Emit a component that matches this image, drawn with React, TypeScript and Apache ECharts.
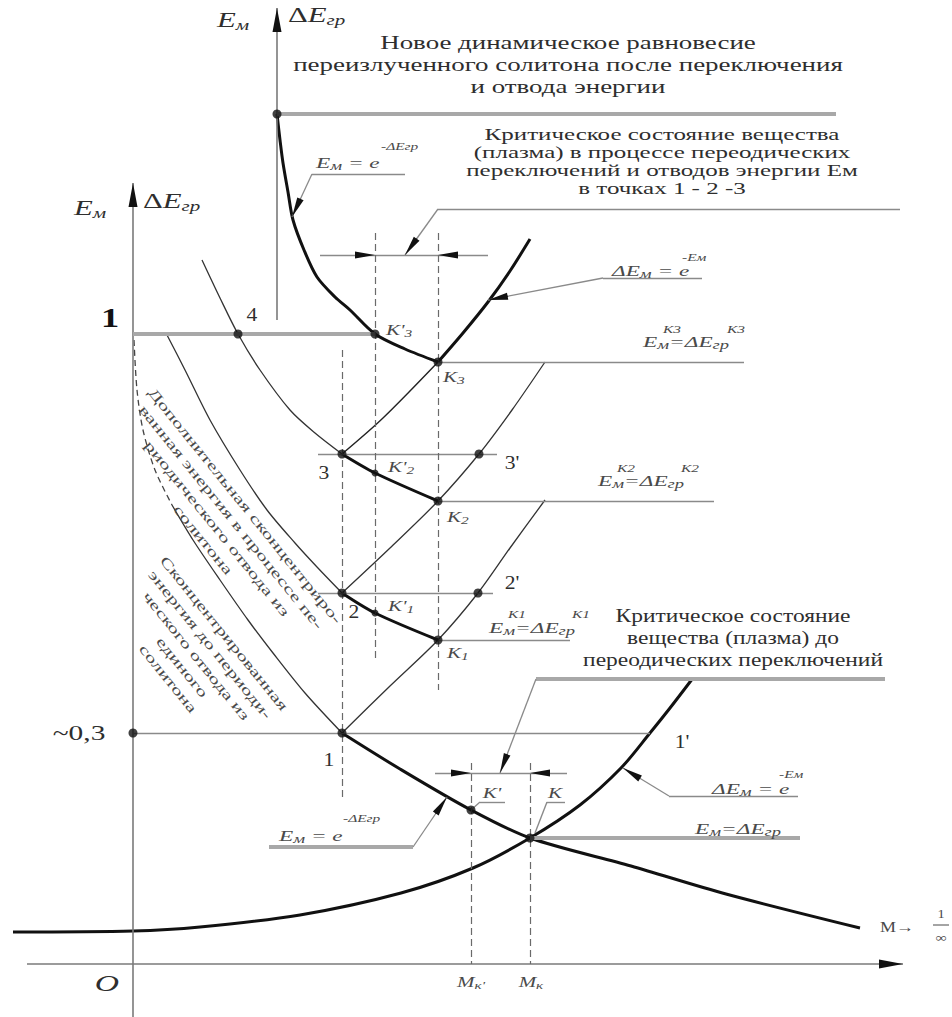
import React, { useEffect, useRef } from "react";
import * as echarts from "echarts";

// Diagram units: x runs along M from the origin O, y is the energy level above the M axis.
const X_EXTENT = [-133, 819];
const Y_EXTENT = [-53, 964];

// Curves, [M, E] pairs
const upperDecay = [[144, 850], [147, 824], [150, 801], [155, 772], [160, 744], [171, 714], [184, 687], [202, 667], [217, 654], [242, 630], [272, 615], [305, 602]];
const upperGrowth = [[305, 602], [330, 631], [355, 662], [377, 693], [397, 725]];
const growthFrom3 = [[209, 510], [250, 546], [305, 602]];
const growthFrom2 = [[209, 371], [257, 416], [305, 463], [346, 510], [379, 554], [412, 602]];
const growthFrom1 = [[209, 231], [257, 278], [305, 324], [345, 371], [377, 416], [412, 464]];
const decayStep3 = [[209, 510], [242, 491], [305, 463]];
const decayStep2 = [[209, 371], [242, 351], [305, 324]];
const curveThrough4 = [[69, 704], [87, 666], [105, 630], [127, 594], [157, 554], [182, 531], [209, 510]];
const curveTo2 = [[34, 629], [52, 594], [77, 544], [107, 494], [134, 454], [162, 421], [184, 397], [209, 371]];
const curveTo1Upper = [[1, 624], [4, 574], [10, 534], [22, 494], [39, 459]];
const curveTo1 = [[39, 459], [60, 424], [87, 384], [115, 344], [140, 311], [172, 271], [209, 231]];
const lowerDecay = [[209, 231], [267, 195], [338, 154], [397, 126], [498, 98], [593, 70], [727, 36]];
const lowerGrowth = [[-120, 32], [0, 33], [67, 37], [167, 49], [268, 71], [340, 96], [397, 126], [447, 159], [488, 196], [517, 231], [537, 256], [560, 286]];

// Marked states: top, 4, K'3, K3, 3, 3', K2, 2, 2', K1, 1, ~0.3, K', K
const statePoints = [[144, 850], [105, 630], [242, 630], [305, 602], [209, 510], [346, 510], [305, 463], [209, 371], [345, 371], [305, 324], [209, 231], [0, 231], [338, 154], [397, 126]];
// Intermediate states K'2, K'1
const minorPoints = [[242, 491], [242, 351]];

// Straight construction lines
const axes = [[[-106, 0], [770, 0]], [[0, -53], [0, 781]], [[144, 644], [144, 956]]];
const grayBars = [
  [[144, 850], [703, 850]],
  [[0, 630], [242, 630]],
  [[403, 285], [752, 285]],
  [[397, 126], [667, 126]],
  [[136, 117], [280, 117]],
];
const thinLines = [
  [[305, 755], [767, 755]],
  [[179, 790], [272, 790]],
  [[470, 686], [569, 686]],
  [[305, 602], [611, 602]],
  [[185, 510], [364, 510]],
  [[305, 463], [581, 463]],
  [[185, 371], [360, 371]],
  [[305, 324], [437, 324]],
  [[0, 231], [517, 231]],
  [[536, 168], [665, 168]],
  [[187, 709], [355, 709]],
  [[302, 191], [434, 191]],
  [[347, 162], [372, 162]],
  [[347, 162], [338, 154]],
  [[414, 162], [432, 162]],
  [[414, 162], [402, 131]],
];
const leaders = [
  [[179, 790], [159, 747]],
  [[305, 755], [272, 709]],
  [[470, 686], [355, 664]],
  [[403, 285], [367, 191]],
  [[536, 168], [490, 196]],
  [[280, 117], [314, 167]],
];
const dimensionArrows = [
  [[215, 709], [242, 709]],
  [[332, 709], [305, 709]],
  [[311, 191], [338, 191]],
  [[424, 191], [397, 191]],
];
const dashedGuides = [
  [[209, 614], [209, 167]],
  [[242, 731], [242, 302]],
  [[305, 731], [305, 274]],
  [[338, 201], [338, 0]],
  [[397, 201], [397, 0]],
];

// Texts
const noteTop = ["Новое динамическое равновесие", "переизлученного солитона после переключения", "и отвода энергии"];
const noteMid = ["Критическое состояние вещества", "(плазма) в процессе переодических", "переключений и отводов энергии Eм", "в точках 1 - 2 -3"];
const noteLow = ["Критическое состояние", "вещества (плазма) до", "переодических переключений"];
const noteExtra = ["Дополнительная сконцентриро-", "ванная энергия в процессе пе-", "риодического отвода из", "солитона"];
const noteBase = ["Сконцентрированная", "энергия до периоди-", "ческого отвода из", "единого", "солитона"];

const SERIF = "'Liberation Serif', 'DejaVu Serif', serif";
const INK = "#2e2e2e";
const SOFT = "#4a4a4a";
const STRETCH = 1.4;
const ARROW = "path://M5,0L10,30L0,30Z";

let measureCtx: CanvasRenderingContext2D | null = null;
function textWidth(s: string, font: string) {
  if (!measureCtx) measureCtx = document.createElement("canvas").getContext("2d");
  measureCtx!.font = font;
  return measureCtx!.measureText(s).width;
}

function tok(size: number, italic = true, va = "middle", color = INK) {
  return {
    fontFamily: SERIF,
    fontSize: size,
    fontStyle: italic ? "italic" : "normal",
    verticalAlign: va,
    fill: color,
    lineHeight: Math.round(size * 1.15),
  };
}

function txt(text: string, x: number, y: number, o: any = {}) {
  return {
    type: "text",
    x,
    y,
    rotation: o.rot ?? 0,
    scaleX: o.sx ?? STRETCH,
    silent: true,
    z: 20,
    style: {
      text,
      fontFamily: SERIF,
      fontSize: o.size ?? 16,
      fontStyle: o.italic ? "italic" : "normal",
      fontWeight: o.bold ? "bold" : "normal",
      fill: o.color ?? INK,
      align: o.align ?? "center",
      verticalAlign: "middle",
      lineHeight: o.lh,
      rich: o.rich,
    },
  };
}

// Paragraph whose reference line is fitted to a given visible width
function block(lines: string[], cx: number, cy: number, size: number, lh: number, fitIndex: number, fitWidth: number, o: any = {}) {
  const font = `${o.italic ? "italic " : ""}${size}px ${SERIF}`;
  const sx = fitWidth / textWidth(lines[fitIndex], font);
  return txt(lines.join("\n"), cx, cy, { ...o, size, lh, sx });
}

const axisRich = { d: tok(22, false), e: tok(22, true), s: tok(15, true, "bottom") };
const formulaRich = { e: tok(15, true, "middle", SOFT), s: tok(12, true, "bottom", SOFT), t: tok(15, true, "middle", SOFT) };
const kRich = { k: tok(15, true, "middle", SOFT), s: tok(11, true, "bottom", SOFT) };
const mRich = { m: tok(15, true, "middle", SOFT), s: tok(11, true, "bottom", SOFT) };
const FORMULA_SX = 1.55;

const sup = (text: string, x: number, y: number) => txt(text, x, y, { size: 11, italic: true, align: "left", color: SOFT });
const formula = (text: string, x: number, y: number) => txt(text, x, y, { align: "left", rich: formulaRich, sx: FORMULA_SX });
const kLabel = (k: string, idx: string, x: number, y: number, align = "left") =>
  txt(`{k|${k}}{s|${idx}}`, x, y, { align, rich: kRich });

function buildGraphics() {
  const rot = (-51 * Math.PI) / 180;
  return [
    block(noteTop, 568, 64, 19, 22, 1, 550, { color: INK }),
    block(noteMid, 662, 161, 17, 18, 0, 355, { color: INK }),
    block(noteLow, 733, 638, 18, 22, 2, 300, { color: INK }),
    block(noteExtra, 224, 523, 14, 18, 0, 299, { rot, color: SOFT }),
    block(noteBase, 196, 656, 14, 18, 0, 194, { rot, color: SOFT }),

    txt("{e|E}{s|м}", 90, 208, { rich: axisRich }),
    txt("{d|Δ}{e|E}{s|гр}", 143, 201, { align: "left", rich: axisRich }),
    txt("{e|E}{s|м}", 233, 20, { rich: axisRich }),
    txt("{d|Δ}{e|E}{s|гр}", 288, 15, { align: "left", rich: axisRich }),
    txt("1", 110, 318, { size: 28, bold: true, color: "#111", sx: 1.3 }),
    txt("~0,3", 79, 733, { size: 21 }),
    txt("O", 107, 983, { size: 24, italic: true }),

    txt("4", 252, 315, { size: 18, sx: 1.2 }),
    txt("3", 324, 473, { size: 18, sx: 1.2 }),
    txt("2", 354, 612, { size: 18, sx: 1.2 }),
    txt("1", 329, 760, { size: 18, sx: 1.2 }),
    txt("3'", 512, 463, { size: 18, sx: 1.2 }),
    txt("2'", 512, 583, { size: 18, sx: 1.2 }),
    txt("1'", 682, 742, { size: 18, sx: 1.2 }),

    kLabel("K'", "3", 386, 330),
    kLabel("K", "3", 443, 377),
    kLabel("K'", "2", 388, 467),
    kLabel("K", "2", 447, 517),
    kLabel("K'", "1", 388, 606),
    kLabel("K", "1", 447, 653),
    txt("K'", 492, 793, { size: 15, italic: true, color: SOFT }),
    txt("K", 555, 793, { size: 15, italic: true, color: SOFT }),
    txt("{m|M}{s|к'}", 471, 982, { rich: mRich }),
    txt("{m|M}{s|к}", 531, 982, { rich: mRich }),

    txt("M→", 880, 927, { size: 15, align: "left", color: SOFT, sx: 1.2 }),
    txt("1", 941, 914, { size: 12, color: SOFT, sx: 1.2 }),
    txt("∞", 941, 937, { size: 13, color: SOFT, sx: 1.2 }),
    { type: "line", silent: true, shape: { x1: 933, y1: 925, x2: 949, y2: 925 }, style: { stroke: SOFT, lineWidth: 1 } },

    formula("{e|E}{s|м}{t| = e}", 316, 163),
    sup("-ΔEгр", 381, 146),
    formula("{t|Δ}{e|E}{s|м}{t| = e}", 612, 271),
    sup("-Eм", 682, 257),
    formula("{e|E}{s|м}{t|=Δ}{e|E}{s|гр}", 643, 342),
    sup("K3", 663, 329),
    sup("K3", 727, 329),
    formula("{e|E}{s|м}{t|=Δ}{e|E}{s|гр}", 598, 481),
    sup("K2", 617, 468),
    sup("K2", 681, 468),
    formula("{e|E}{s|м}{t|=Δ}{e|E}{s|гр}", 489, 628),
    sup("K1", 508, 614),
    sup("K1", 572, 614),
    formula("{t|Δ}{e|E}{s|м}{t| = e}", 712, 789),
    sup("-Eм", 779, 774),
    formula("{e|E}{s|м}{t|=Δ}{e|E}{s|гр}", 695, 829),
    formula("{e|E}{s|м}{t| = e}", 279, 836),
    sup("-ΔEгр", 343, 818),
  ];
}

function plain(segs: number[][][]) {
  return segs.map(([a, b]) => [{ coord: a, symbol: "none" }, { coord: b, symbol: "none" }]);
}

// Black arrowhead at the end of each segment, tip placed on the end point
function tips(segs: number[][][], size: number[]) {
  return segs.map(([a, b]) => {
    const dx = b[0] - a[0];
    const dy = b[1] - a[1];
    const len = Math.hypot(dx, dy);
    const ux = dx / len;
    const uy = dy / len;
    const from = [b[0] - ux * size[1], b[1] - uy * size[1]];
    const end = [b[0] - (ux * size[1]) / 2, b[1] - (uy * size[1]) / 2];
    return [
      { coord: from, symbol: "none" },
      { coord: end, symbol: ARROW, symbolSize: size },
    ];
  });
}

function lineGroup(name: string, data: any[], lineStyle: any, z = 2) {
  return {
    type: "line",
    name,
    data: [],
    silent: true,
    z,
    markLine: {
      silent: true,
      symbol: ["none", "none"],
      label: { show: false },
      emphasis: { disabled: true },
      lineStyle: { type: "solid", ...lineStyle },
      data,
    },
  };
}

function curve(name: string, data: number[][], width: number, color = "#111", type: any = "solid") {
  return {
    type: "line",
    name,
    data,
    smooth: 0.3,
    showSymbol: false,
    symbol: "none",
    silent: true,
    z: 4,
    lineStyle: { width, color, type },
  };
}

function buildOption() {
  return {
    animation: false,
    backgroundColor: "#ffffff",
    grid: { left: 0, right: 0, top: 0, bottom: 0 },
    xAxis: { type: "value", min: X_EXTENT[0], max: X_EXTENT[1], show: false },
    yAxis: { type: "value", min: Y_EXTENT[0], max: Y_EXTENT[1], show: false },
    series: [
      lineGroup("axes", plain(axes), { color: "#7a7a7a", width: 1.6 }),
      lineGroup("axisHeads", tips(axes, [9, 24]), { color: "#111", width: 1.6 }, 3),
      lineGroup("levels", plain(grayBars), { color: "#a8a8a8", width: 4 }),
      lineGroup("construction", plain(thinLines), { color: "#8a8a8a", width: 1.4 }),
      lineGroup("leaders", plain(leaders), { color: "#8a8a8a", width: 1.3 }),
      lineGroup("leaderHeads", tips(leaders, [7, 20]), { color: "#111", width: 1.3 }, 3),
      lineGroup("dimensionHeads", tips(dimensionArrows, [7, 20]), { color: "#111", width: 1.3 }, 3),
      lineGroup("guides", plain(dashedGuides), { color: "#6a6a6a", width: 1.2, type: [7, 4] }),
      curve("upperDecay", upperDecay, 3),
      curve("upperGrowth", upperGrowth, 3),
      curve("growthFrom3", growthFrom3, 1.4, "#222"),
      curve("growthFrom2", growthFrom2, 1.3, "#333"),
      curve("growthFrom1", growthFrom1, 1.3, "#333"),
      curve("decayStep3", decayStep3, 3),
      curve("decayStep2", decayStep2, 3),
      curve("curveThrough4", curveThrough4, 1.3, "#333"),
      curve("curveTo2", curveTo2, 1.3, "#333"),
      curve("curveTo1Upper", curveTo1Upper, 1.3, "#444", [6, 4]),
      curve("curveTo1", curveTo1, 1.3, "#333"),
      curve("lowerDecay", lowerDecay, 3),
      curve("lowerGrowth", lowerGrowth, 3),
      {
        type: "scatter",
        name: "states",
        data: statePoints,
        symbol: "circle",
        symbolSize: 9,
        silent: true,
        z: 6,
        itemStyle: { color: "#111" },
      },
      {
        type: "scatter",
        name: "intermediate",
        data: minorPoints,
        symbol: "circle",
        symbolSize: 7,
        silent: true,
        z: 6,
        itemStyle: { color: "#111" },
      },
    ],
    graphic: { elements: buildGraphics() },
  };
}

export default function App() {
  const ref = useRef<HTMLDivElement>(null);
  useEffect(() => {
    const chart = echarts.init(ref.current!, null, { renderer: "svg" });
    chart.setOption(buildOption() as any);
    return () => chart.dispose();
  }, []);
  return (
    <div
      ref={ref}
      style={{ position: "absolute", left: 0, top: 0, width: 952, height: 1017, background: "#fff" }}
    />
  );
}
